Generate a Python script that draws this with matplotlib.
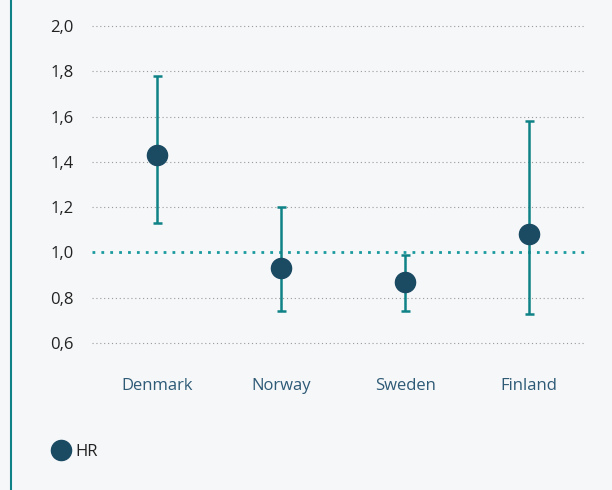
import matplotlib
matplotlib.use("Agg")
import matplotlib.pyplot as plt
from matplotlib.lines import Line2D

countries = ["Denmark", "Norway", "Sweden", "Finland"]
hr = [1.43, 0.93, 0.87, 1.08]
ci_low = [1.13, 0.74, 0.74, 0.73]
ci_high = [1.78, 1.20, 0.99, 1.58]
yticks = [0.6, 0.8, 1.0, 1.2, 1.4, 1.6, 1.8, 2.0]

bg = "#f6f7f9"
teal = "#0e8286"
navy = "#1b4a63"

plt.rcParams['font.family'] = ['Open Sans', 'DejaVu Sans']

fig = plt.figure(figsize=(6.12, 4.9), dpi=100, facecolor=bg)
ax = fig.add_axes([0.150, 0.300, 0.806, 0.647], facecolor=bg)

x = list(range(len(countries)))
for xi, lo, hi in zip(x, ci_low, ci_high):
    ax.plot([xi, xi], [lo, hi], color=teal, lw=1.8, zorder=3, solid_capstyle='butt')
    ax.plot([xi - 0.035, xi + 0.035], [lo, lo], color=teal, lw=1.8, zorder=3, solid_capstyle='butt')
    ax.plot([xi - 0.035, xi + 0.035], [hi, hi], color=teal, lw=1.8, zorder=3, solid_capstyle='butt')
ax.plot(x, hr, 'o', color=navy, markersize=14.5, zorder=4, linestyle='none', clip_on=False)

for yt in yticks:
    if abs(yt - 1.0) < 1e-9:
        continue
    ax.axhline(yt, color="#9a9a9a", lw=0.8, ls=(0, (1, 2.5)), zorder=1, clip_on=False)
ax.axhline(1.0, color="#1a9a9e", lw=2.0, ls=(0, (1, 2.2)), zorder=2)

ax.set_xlim(-0.53, 3.45)
ax.set_ylim(0.6, 2.0)
ax.set_yticks(yticks)
ax.set_yticklabels([f"{v:.1f}".replace(".", ",") for v in yticks], fontsize=12, color="#222222")
ax.set_xticks(x)
ax.set_xticklabels(countries, fontsize=12, color="#2e5a76")
ax.tick_params(axis='y', length=0, pad=13)
ax.tick_params(axis='x', length=0, pad=25)
for s in ax.spines.values():
    s.set_visible(False)

fig.add_artist(Line2D([10.5 / 612, 10.5 / 612], [0, 1], transform=fig.transFigure, color=teal, lw=1.5))

handle = Line2D([], [], marker='o', color=navy, markersize=14.5, linestyle='none')
fig.legend([handle], ["HR"], loc='center left', bbox_to_anchor=(0.061, 1 - 452 / 490),
           frameon=False, fontsize=12, handletextpad=-0.1, borderaxespad=0, labelcolor="#222222")

fig.savefig("out.png", dpi=100, facecolor=bg)
